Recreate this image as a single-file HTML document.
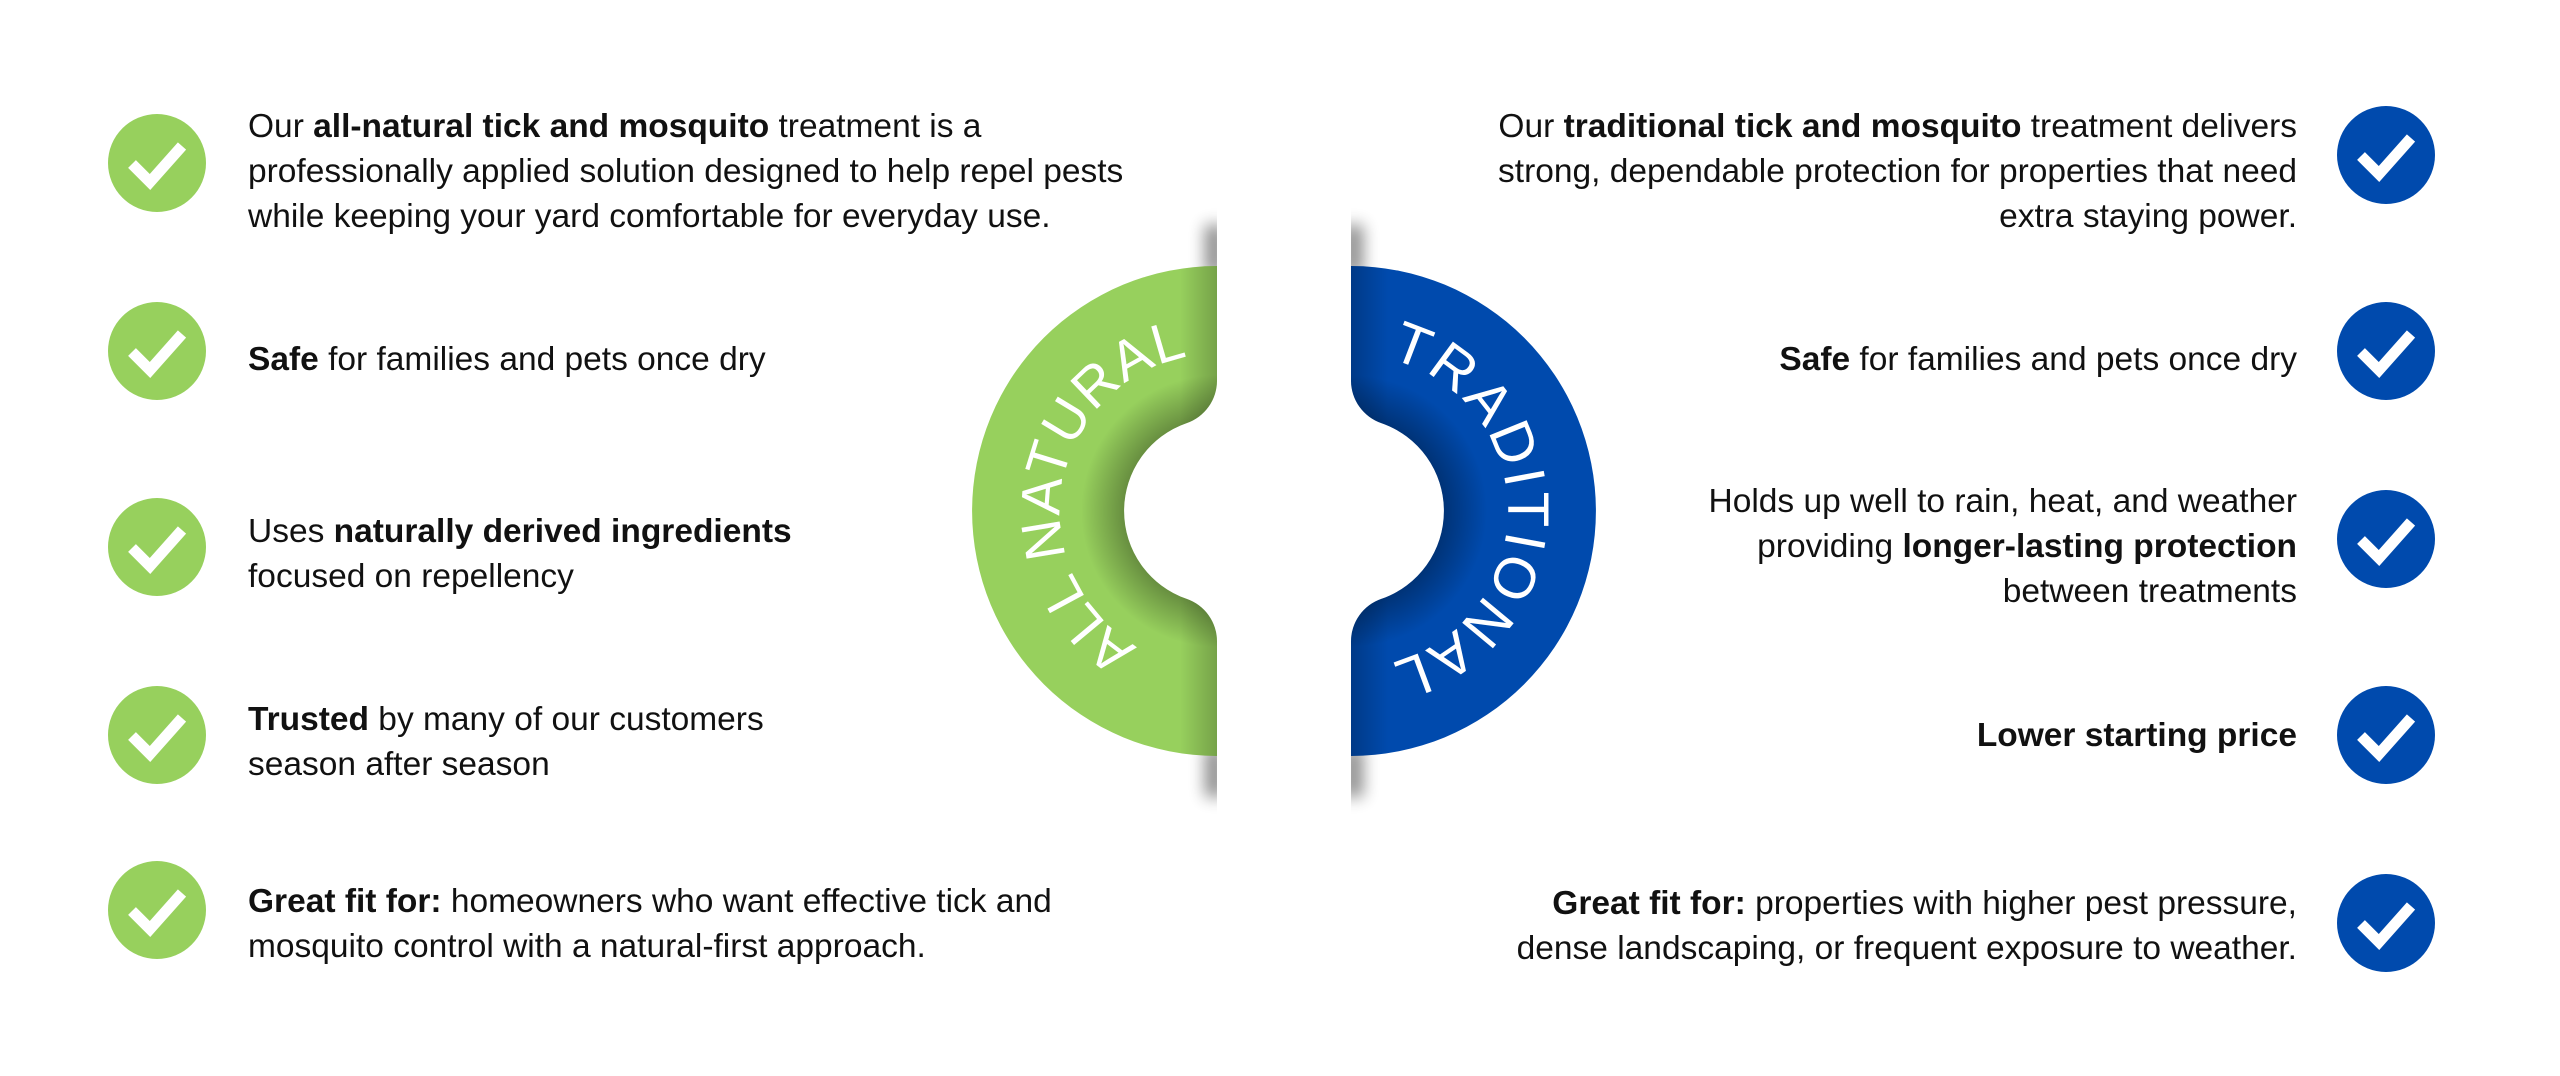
<!DOCTYPE html>
<html><head><meta charset="utf-8">
<style>
html,body{margin:0;padding:0;background:#fff;}
body{width:2560px;height:1076px;position:relative;overflow:hidden;font-family:"Liberation Sans","DejaVu Sans",sans-serif;color:#111;}
.t{position:absolute;font-size:33.5px;line-height:45px;white-space:nowrap;}
.l{left:248px;text-align:left;}
.r{right:263px;text-align:right;}
b{font-weight:bold;}
.c{position:absolute;width:98px;height:98px;border-radius:50%;}
.g{background:#97d05d;left:108px;}
.bl{background:#004aad;left:2337px;}
.c svg{position:absolute;left:0;top:0;}
</style></head><body>

<svg width="2560" height="1076" style="position:absolute;left:0;top:0">
<defs>
<filter id="blur" x="-1" y="-1" width="3" height="3"><feGaussianBlur stdDeviation="8"/></filter>
<radialGradient id="inner" cx="1217" cy="511" r="160" gradientUnits="userSpaceOnUse">
<stop offset="0.55" stop-color="#000" stop-opacity="0.35"/><stop offset="0.85" stop-color="#000" stop-opacity="0"/></radialGradient>
<linearGradient id="edgeDark" x1="1217" y1="0" x2="1180" y2="0" gradientUnits="userSpaceOnUse">
<stop offset="0" stop-color="#000" stop-opacity="0.22"/><stop offset="1" stop-color="#000" stop-opacity="0"/></linearGradient>
<path id="shape" d="M1217 266 A245 245 0 0 0 1217 756 L1217 641.5 A45 45 0 0 0 1186.7 598.9 A93 93 0 0 1 1186.7 423.1 A45 45 0 0 0 1217 380.5 Z"/>
<clipPath id="cp"><use href="#shape"/></clipPath>
<clipPath id="cpL"><rect x="1100" y="150" width="117" height="700"/></clipPath>
</defs>

<g clip-path="url(#cpL)">
<rect x="1205" y="225" width="20" height="50" fill="#000" opacity="0.45" filter="url(#blur)"/>
<rect x="1205" y="747" width="20" height="50" fill="#000" opacity="0.45" filter="url(#blur)"/>
</g>
<g transform="translate(2568 0) scale(-1 1)">
<g clip-path="url(#cpL)">
<rect x="1205" y="225" width="20" height="50" fill="#000" opacity="0.45" filter="url(#blur)"/>
<rect x="1205" y="747" width="20" height="50" fill="#000" opacity="0.45" filter="url(#blur)"/>
</g>
</g>

<use href="#shape" fill="#97d05d"/>
<g clip-path="url(#cp)">
<rect x="960" y="260" width="260" height="500" fill="url(#inner)"/>
<rect x="1170" y="266" width="47" height="490" fill="url(#edgeDark)"/>
</g>
<path id="pg" d="M1203.3 667.4 A157 157 0 0 1 1060 511 A157 157 0 0 1 1257.6 359.4" fill="none"/>
<text font-family="Liberation Sans, sans-serif" font-size="56" fill="#fff" letter-spacing="1"><textPath href="#pg" startOffset="50%" text-anchor="middle">ALL NATURAL</textPath></text>

<g transform="translate(2568 0) scale(-1 1)">
<use href="#shape" fill="#004aad"/>
<g clip-path="url(#cp)">
<rect x="960" y="260" width="260" height="500" fill="url(#inner)"/>
<rect x="1170" y="266" width="47" height="490" fill="url(#edgeDark)"/>
</g>
</g>
<path id="pb2" d="M1351 354 A157 157 0 0 1 1351 668" fill="none"/>
<text font-family="Liberation Sans, sans-serif" font-size="58" fill="#fff" letter-spacing="3"><textPath href="#pb2" startOffset="50%" text-anchor="middle">TRADITIONAL</textPath></text>
</svg>

<div class="c g" style="top:114px"><svg width="98" height="98"><path d="M24 50 L42 68 L74 32" fill="none" stroke="#fff" stroke-width="11"/></svg></div>
<div class="c g" style="top:302px"><svg width="98" height="98"><path d="M24 50 L42 68 L74 32" fill="none" stroke="#fff" stroke-width="11"/></svg></div>
<div class="c g" style="top:498px"><svg width="98" height="98"><path d="M24 50 L42 68 L74 32" fill="none" stroke="#fff" stroke-width="11"/></svg></div>
<div class="c g" style="top:686px"><svg width="98" height="98"><path d="M24 50 L42 68 L74 32" fill="none" stroke="#fff" stroke-width="11"/></svg></div>
<div class="c g" style="top:861px"><svg width="98" height="98"><path d="M24 50 L42 68 L74 32" fill="none" stroke="#fff" stroke-width="11"/></svg></div>

<div class="c bl" style="top:106px"><svg width="98" height="98"><path d="M24 50 L42 68 L74 32" fill="none" stroke="#fff" stroke-width="11"/></svg></div>
<div class="c bl" style="top:302px"><svg width="98" height="98"><path d="M24 50 L42 68 L74 32" fill="none" stroke="#fff" stroke-width="11"/></svg></div>
<div class="c bl" style="top:490px"><svg width="98" height="98"><path d="M24 50 L42 68 L74 32" fill="none" stroke="#fff" stroke-width="11"/></svg></div>
<div class="c bl" style="top:686px"><svg width="98" height="98"><path d="M24 50 L42 68 L74 32" fill="none" stroke="#fff" stroke-width="11"/></svg></div>
<div class="c bl" style="top:874px"><svg width="98" height="98"><path d="M24 50 L42 68 L74 32" fill="none" stroke="#fff" stroke-width="11"/></svg></div>

<div class="t l" style="top:104px">Our <b>all-natural tick and mosquito</b> treatment is a<br>professionally applied solution designed to help repel pests<br>while keeping your yard comfortable for everyday use.</div>
<div class="t l" style="top:337px"><b>Safe</b> for families and pets once dry</div>
<div class="t l" style="top:509px">Uses <b>naturally derived ingredients</b><br>focused on repellency</div>
<div class="t l" style="top:697px"><b>Trusted</b> by many of our customers<br>season after season</div>
<div class="t l" style="top:879px"><b>Great fit for:</b> homeowners who want effective tick and<br>mosquito control with a natural-first approach.</div>

<div class="t r" style="top:104px">Our <b>traditional tick and mosquito</b> treatment delivers<br>strong, dependable protection for properties that need<br>extra staying power.</div>
<div class="t r" style="top:337px"><b>Safe</b> for families and pets once dry</div>
<div class="t r" style="top:479px">Holds up well to rain, heat, and weather<br>providing <b>longer-lasting protection</b><br>between treatments</div>
<div class="t r" style="top:713px"><b>Lower starting price</b></div>
<div class="t r" style="top:881px"><b>Great fit for:</b> properties with higher pest pressure,<br>dense landscaping, or frequent exposure to weather.</div>

</body></html>
